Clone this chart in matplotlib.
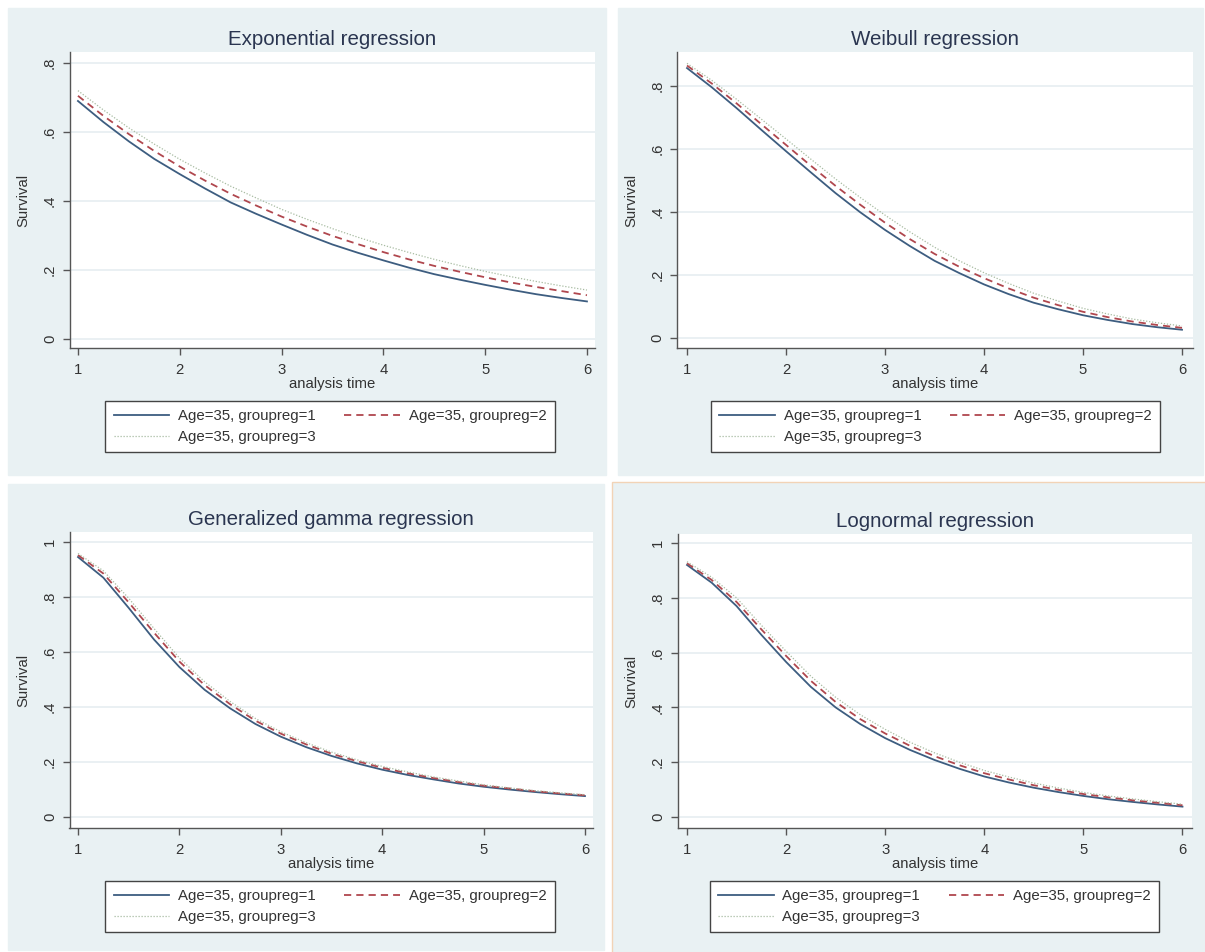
import matplotlib.pyplot as plt
from matplotlib.lines import Line2D
from matplotlib.patches import Rectangle

plt.rcParams['font.family'] = ['Liberation Sans', 'DejaVu Sans']

# analysis time points (every quarter)
t = [1, 1.25, 1.5, 1.75, 2, 2.25, 2.5, 2.75, 3, 3.25, 3.5, 3.75,
     4, 4.25, 4.5, 4.75, 5, 5.25, 5.5, 5.75, 6]

# survival estimates, Age=35, groupreg=1/2/3
exp_g1 = [0.690, 0.629, 0.573, 0.522, 0.478, 0.436, 0.396, 0.363, 0.332, 0.302, 0.274,
          0.250, 0.228, 0.207, 0.188, 0.172, 0.157, 0.143, 0.130, 0.119, 0.109]
exp_g2 = [0.705, 0.647, 0.594, 0.545, 0.500, 0.459, 0.421, 0.387, 0.355, 0.326, 0.299,
          0.275, 0.252, 0.231, 0.212, 0.195, 0.179, 0.164, 0.151, 0.139, 0.127]
exp_g3 = [0.720, 0.664, 0.612, 0.565, 0.521, 0.481, 0.443, 0.409, 0.376, 0.347, 0.320,
          0.295, 0.272, 0.251, 0.231, 0.213, 0.196, 0.181, 0.167, 0.154, 0.142]

wei_g1 = [0.857, 0.796, 0.730, 0.661, 0.593, 0.526, 0.460, 0.399, 0.343, 0.292, 0.245,
          0.206, 0.170, 0.139, 0.112, 0.091, 0.072, 0.057, 0.044, 0.034, 0.026]
wei_g2 = [0.865, 0.808, 0.745, 0.679, 0.613, 0.547, 0.483, 0.423, 0.366, 0.314, 0.267,
          0.226, 0.190, 0.157, 0.128, 0.104, 0.083, 0.066, 0.052, 0.041, 0.032]
wei_g3 = [0.872, 0.818, 0.758, 0.695, 0.632, 0.568, 0.505, 0.446, 0.390, 0.337, 0.288,
          0.245, 0.207, 0.173, 0.142, 0.117, 0.094, 0.076, 0.060, 0.048, 0.038]

gam_g1 = [0.945, 0.870, 0.760, 0.645, 0.545, 0.462, 0.395, 0.338, 0.292, 0.254, 0.222,
          0.195, 0.172, 0.153, 0.137, 0.122, 0.110, 0.100, 0.091, 0.083, 0.076]
gam_g2 = [0.952, 0.885, 0.780, 0.670, 0.565, 0.479, 0.410, 0.350, 0.303, 0.264, 0.230,
          0.203, 0.179, 0.159, 0.142, 0.127, 0.114, 0.104, 0.094, 0.086, 0.079]
gam_g3 = [0.958, 0.895, 0.795, 0.685, 0.578, 0.491, 0.420, 0.358, 0.310, 0.270, 0.236,
          0.208, 0.184, 0.164, 0.146, 0.131, 0.117, 0.106, 0.096, 0.088, 0.081]

lgn_g1 = [0.920, 0.855, 0.770, 0.665, 0.566, 0.475, 0.400, 0.339, 0.288, 0.245, 0.208,
          0.176, 0.148, 0.126, 0.107, 0.091, 0.077, 0.065, 0.055, 0.046, 0.038]
lgn_g2 = [0.926, 0.865, 0.785, 0.685, 0.588, 0.497, 0.420, 0.357, 0.305, 0.260, 0.222,
          0.189, 0.160, 0.137, 0.116, 0.099, 0.084, 0.072, 0.061, 0.052, 0.043]
lgn_g3 = [0.932, 0.875, 0.800, 0.700, 0.605, 0.514, 0.437, 0.373, 0.320, 0.273, 0.234,
          0.200, 0.170, 0.146, 0.124, 0.106, 0.090, 0.077, 0.066, 0.056, 0.047]

labels = ["Age=35, groupreg=1", "Age=35, groupreg=2", "Age=35, groupreg=3"]

W, H = 1205, 952
BG = '#e9f1f3'
C1, C2, C3 = '#3d5d80', '#b0474e', '#a8bca2'

fig = plt.figure(figsize=(W / 100, H / 100), dpi=100)
fig.patch.set_facecolor('white')


def px_rect(x0, y0, x1, y1):
    # pixel box -> figure fraction [l, b, w, h]
    return [x0 / W, 1 - y1 / H, (x1 - x0) / W, (y1 - y0) / H]


def background(x0, y0, x1, y1, edge=None):
    l, b, w, h = px_rect(x0, y0, x1, y1)
    fig.patches.append(Rectangle((l, b), w, h, transform=fig.transFigure,
                                 facecolor=BG, edgecolor=edge or BG,
                                 linewidth=1, zorder=-10))


def panel(box, title, s1, s2, s3, yticks, xlim, ylim, leg_box):
    ax = fig.add_axes(px_rect(*box))
    ax.set_facecolor('white')
    ax.plot(t, s1, color=C1, lw=1.3)
    ax.plot(t, s2, color=C2, lw=1.3, linestyle=(0, (4, 2.8)))
    ax.plot(t, s3, color=C3, lw=0.9, linestyle=(0, (1, 1.4)))
    ax.set_xlim(*xlim)
    ax.set_ylim(*ylim)
    ax.set_xticks([1, 2, 3, 4, 5, 6])
    ax.set_yticks(yticks)
    ax.set_yticklabels([('%g' % v).replace('0.', '.') for v in yticks],
                       rotation=90, va='center')
    ax.grid(axis='y', color='#e6eef1', lw=1.2)
    ax.set_axisbelow(True)
    for s in ['top', 'right']:
        ax.spines[s].set_visible(False)
    for s in ['left', 'bottom']:
        ax.spines[s].set_color('#555555')
        ax.spines[s].set_linewidth(1.0)
    ax.tick_params(colors='#555555', labelcolor='#333333', labelsize=10.7,
                   length=5, width=1)
    ax.tick_params(axis='y', pad=4)
    ax.tick_params(axis='x', pad=6)
    ax.set_xlabel('analysis time', fontsize=10.7, color='#333333', labelpad=0)
    ax.set_ylabel('Survival', fontsize=10.7, color='#333333', labelpad=9)
    ax.set_title(title, fontsize=14.8, color='#2a3550', pad=5)

    handles = [Line2D([], [], color=C1, lw=1.3),
               Line2D([], [], color=C3, lw=0.9, linestyle=(0, (1, 1.4))),
               Line2D([], [], color=C2, lw=1.3, linestyle=(0, (4, 2.8)))]
    x0, y0, x1, y1 = leg_box
    leg = ax.legend(handles, [labels[0], labels[2], labels[1]], ncol=2,
                    loc='upper center',
                    bbox_to_anchor=((x0 + x1) / 2 / W, 1 - y0 / H),
                    bbox_transform=fig.transFigure, fontsize=10.8,
                    frameon=True, fancybox=False, framealpha=1,
                    edgecolor='#444444', handlelength=3.7,
                    handletextpad=0.6, columnspacing=1.9,
                    labelspacing=0.45, borderpad=0.55, borderaxespad=0)
    leg.get_frame().set_linewidth(1.0)
    for txt in leg.get_texts():
        txt.set_color('#333333')
    return ax


# panel backgrounds
background(8, 8, 606, 475)
background(618, 8, 1203, 475)
background(8, 484, 604, 950)
background(612, 482, 1210, 960, edge='#f2d3b6')

panel((69.5, 52, 595, 348), 'Exponential regression', exp_g1, exp_g2, exp_g3,
      [0, 0.2, 0.4, 0.6, 0.8], (0.917, 6.079), (-0.026, 0.832),
      (103, 401, 557, 453))
panel((677, 52, 1193, 348), 'Weibull regression', wei_g1, wei_g2, wei_g3,
      [0, 0.2, 0.4, 0.6, 0.8], (0.899, 6.111), (-0.032, 0.908),
      (711, 401, 1160, 453))
panel((69.5, 532, 593, 828), 'Generalized gamma regression', gam_g1, gam_g2, gam_g3,
      [0, 0.2, 0.4, 0.6, 0.8, 1], (0.916, 6.079), (-0.04, 1.036),
      (103, 881, 557, 933))
panel((677.5, 534, 1192, 828), 'Lognormal regression', lgn_g1, lgn_g2, lgn_g3,
      [0, 0.2, 0.4, 0.6, 0.8, 1], (0.904, 6.096), (-0.04, 1.033),
      (710, 881, 1159, 933))

fig.savefig('out.png', dpi=100, facecolor=fig.get_facecolor())
